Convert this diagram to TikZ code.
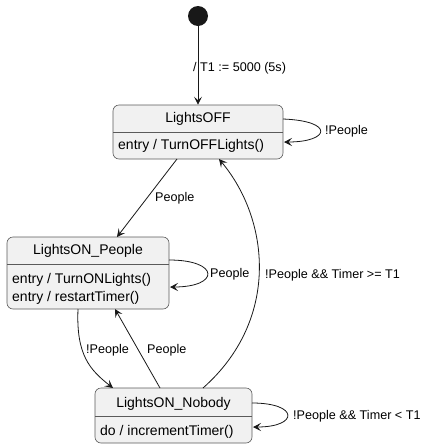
\documentclass[tikz,border=0pt]{standalone}
\usepackage{fontspec}
\setmainfont{Liberation Sans}
\usetikzlibrary{arrows.meta}
\definecolor{boxfill}{HTML}{F1F1F1}
\definecolor{boxline}{HTML}{5A5A5A}
\definecolor{arr}{HTML}{181818}
\tikzset{
  statebox/.style={draw=boxline, fill=boxfill, rounded corners=6pt, line width=0.6pt, inner sep=0pt},
  divider/.style={draw=boxline, line width=0.6pt},
  titletext/.style={inner sep=0pt, font=\fontsize{14}{16}\selectfont},
  bodytext/.style={inner sep=0pt, anchor=west, font=\fontsize{14}{16}\selectfont},
  lbl/.style={inner sep=0pt, anchor=west, font=\fontsize{12.6}{14}\selectfont},
  conn/.style={draw=arr, line width=0.8pt, -{Stealth[length=8pt,width=8pt,inset=3.5pt]}},
}
\begin{document}
\begin{tikzpicture}[x=1pt,y=-1pt]
\useasboundingbox (0,0) rectangle (435,448);
% initial
\node[circle, fill=arr, minimum size=20pt, inner sep=0pt] (init) at (198,16) {};
% LightsOFF
\node[statebox, minimum width=170pt, minimum height=54pt] (off) at (198,132) {};
\draw[divider] (113,132) -- (283,132);
\node[titletext] (offt) at (198,118.5) {LightsOFF};
\node[bodytext] (offb) at (118,146) {entry / TurnOFFLights()};
% LightsON_People
\node[statebox, minimum width=162pt, minimum height=72pt] (ppl) at (88,273) {};
\draw[divider] (7,264) -- (169,264);
\node[titletext] (pplt) at (88,251) {LightsON\_People};
\node[bodytext] (pplb1) at (12,280) {entry / TurnONLights()};
\node[bodytext] (pplb2) at (12,298) {entry / restartTimer()};
% LightsON_Nobody
\node[statebox, minimum width=157pt, minimum height=55pt] (nob) at (173.5,415.5) {};
\draw[divider] (95,416) -- (252,416);
\node[titletext] (nobt) at (173.5,404) {LightsON\_Nobody};
\node[bodytext] (nobb) at (100,432) {do / incrementTimer()};
% connectors
\draw[conn] (init.south) -- (off.north);
\node[lbl] (l1) at (193,68) {/ T1 := 5000 (5s)};

\coordinate (offL1) at (283,119);
\coordinate (offL2) at (284,142);
\draw[conn] (offL1) .. controls (335,121) and (330,142) .. (offL2);
\node[lbl] (l2) at (325,131) {!People};

\coordinate (offA) at (177,159);
\coordinate (pplA) at (117,237);
\draw[conn] (offA) -- (pplA);
\node[lbl] (l3) at (155,198) {People};

\coordinate (pplL1) at (169,260);
\coordinate (pplL2) at (170,287);
\draw[conn] (pplL1) .. controls (220,260) and (220,287) .. (pplL2);
\node[lbl] (l4) at (210,274) {People};

\coordinate (pplB) at (78,309);
\coordinate (nobA) at (113,388);
\draw[conn] (pplB) .. controls (76,355) and (90,370) .. (nobA);
\node[lbl] (l5) at (86,350) {!People};

\coordinate (nobB) at (160,388);
\coordinate (pplC) at (115,309);
\draw[conn] (nobB) -- (pplC);
\node[lbl] (l6) at (147,350) {People};

\coordinate (nobC) at (203,388);
\coordinate (offB) at (219,159);
\draw[conn] (nobC) .. controls (280,320) and (270,220) .. (offB);
\node[lbl] (l7) at (265,275) {!People \&\& Timer >= T1};

\coordinate (nobL1) at (252,403);
\coordinate (nobL2) at (253,427);
\draw[conn] (nobL1) .. controls (299,403) and (299,427) .. (nobL2);
\node[lbl] (l8) at (293,416) {!People \&\& Timer < T1};
\end{tikzpicture}
\end{document}
